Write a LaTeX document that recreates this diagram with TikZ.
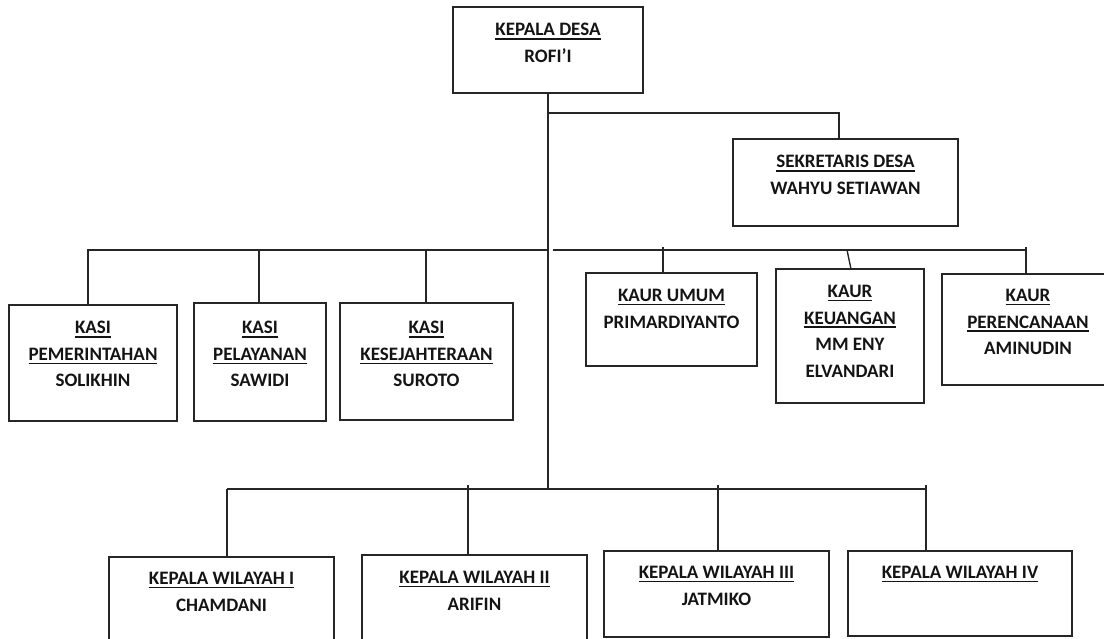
\documentclass[tikz,border=0pt]{standalone}
\usepackage{fontspec}
\setmainfont{Carlito}
\newcommand\ulx[1]{\leavevmode\setbox0\hbox{#1}\rlap{\vrule height -2.4pt depth 3.9pt width \wd0}\box0}
\tikzset{
  box/.style={draw=black!85, line width=1.5pt, inner sep=0pt, outer sep=0pt, anchor=north west, rectangle},
  txt/.style={align=center, inner sep=0pt, anchor=north, font=\bfseries\fontsize{19}{26.5}\selectfont, text=black!92},
  link/.style={draw=black!85, line width=1.4pt},
}
\begin{document}
\begin{tikzpicture}[x=1pt,y=-1pt]
\useasboundingbox (0,0) rectangle (1104,639);
\clip (0,0) rectangle (1104,639);
% boxes
\node[box, minimum width=190pt, minimum height=86pt] (kd) at (453,7) {};
\node[box, minimum width=225pt, minimum height=87pt] (sd) at (733,139) {};
\node[box, minimum width=168pt, minimum height=116pt] (k1) at (9,305) {};
\node[box, minimum width=132pt, minimum height=118pt] (k2) at (194,303) {};
\node[box, minimum width=173pt, minimum height=117pt] (k3) at (340,303) {};
\node[box, minimum width=171pt, minimum height=93pt] (u1) at (586,273) {};
\node[box, minimum width=148pt, minimum height=134pt] (u2) at (776,269) {};
\node[box, minimum width=172pt, minimum height=111pt] (u3) at (942,274) {};
\node[box, minimum width=225pt, minimum height=100pt] (w1) at (109,557) {};
\node[box, minimum width=225pt, minimum height=100pt] (w2) at (362,555) {};
\node[box, minimum width=225pt, minimum height=86pt] (w3) at (604,551) {};
\node[box, minimum width=224pt, minimum height=85pt] (w4) at (848,551) {};
% texts
\node[txt] (kdt) at ([yshift=-16pt]kd.north) {\ulx{KEPALA DESA}\\ROFI’I};
\node[txt] (sdt) at ([yshift=-16pt]sd.north) {\ulx{SEKRETARIS DESA}\\WAHYU SETIAWAN};
\node[txt] (k1t) at ([yshift=-16pt]k1.north) {\ulx{KASI}\\\ulx{PEMERINTAHAN}\\SOLIKHIN};
\node[txt] (k2t) at ([yshift=-18pt]k2.north) {\ulx{KASI}\\\ulx{PELAYANAN}\\SAWIDI};
\node[txt] (k3t) at ([yshift=-18pt]k3.north) {\ulx{KASI}\\\ulx{KESEJAHTERAAN}\\SUROTO};
\node[txt] (u1t) at ([yshift=-16pt]u1.north) {\ulx{KAUR UMUM}\\PRIMARDIYANTO};
\node[txt] (u2t) at ([yshift=-16pt]u2.north) {\ulx{KAUR}\\\ulx{KEUANGAN}\\MM ENY\\ELVANDARI};
\node[txt] (u3t) at ([yshift=-15pt]u3.north) {\ulx{KAUR}\\\ulx{PERENCANAAN}\\AMINUDIN};
\node[txt] (w1t) at ([yshift=-15pt]w1.north) {\ulx{KEPALA WILAYAH I}\\CHAMDANI};
\node[txt] (w2t) at ([yshift=-16pt]w2.north) {\ulx{KEPALA WILAYAH II}\\ARIFIN};
\node[txt] (w3t) at ([yshift=-15pt]w3.north) {\ulx{KEPALA WILAYAH III}\\JATMIKO};
\node[txt] (w4t) at ([yshift=-15pt]w4.north) {\ulx{KEPALA WILAYAH IV}};
% bus coordinates
\coordinate (bus1) at (548,113);
\coordinate (bus2) at (548,250);
\coordinate (bus3) at (548,489);
\coordinate (s1) at (839,111);
\coordinate (l1) at (88,250);
\coordinate (l2) at (259,250);
\coordinate (l3) at (426,250);
\coordinate (r0) at (553,250);
\coordinate (r1) at (663,247);
\coordinate (r2) at (847,250);
\coordinate (r3) at (1026,247);
\coordinate (b1) at (227,489);
\coordinate (b2) at (468,485);
\coordinate (b3) at (718,485);
\coordinate (b4) at (926,485);
% connectors
\draw[link] (kd.south) -- (bus3);
\draw[link] (bus1) -- (bus1 -| s1) -- (s1 |- sd.north);
\draw[link] (bus2) -- (l1) -- (l1 |- k1.north);
\draw[link] (l2) -- (l2 |- k2.north);
\draw[link] (l3) -- (l3 |- k3.north);
\draw[link] (r0) -- (r0 -| r3);
\draw[link] (r1) -- (r1 |- u1.north);
\draw[link] (r2) -- ([xshift=1pt]u2.north);
\draw[link] (r3) -- (r3 |- u3.north);
\draw[link] (b1) -- (bus3 -| b4);
\draw[link] (b1) -- (b1 |- w1.north);
\draw[link] (b2) -- (b2 |- w2.north);
\draw[link] (b3) -- (b3 |- w3.north);
\draw[link] (b4) -- (b4 |- w4.north);
\end{tikzpicture}
\end{document}
